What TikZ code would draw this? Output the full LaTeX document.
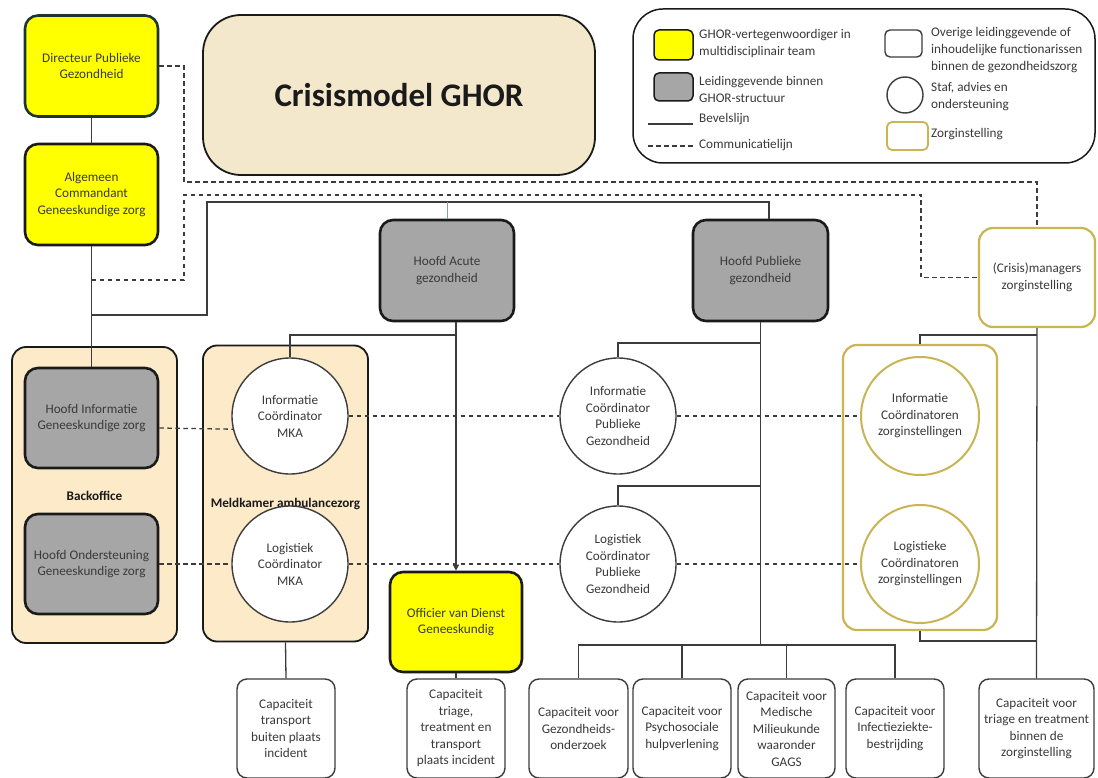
\documentclass[tikz,border=0pt]{standalone}
\usepackage{fontspec}
\setmainfont{Carlito}
\usetikzlibrary{arrows.meta}
\definecolor{ghoryellow}{HTML}{FFFF00}
\definecolor{boxgray}{HTML}{A6A6A6}
\definecolor{beige}{HTML}{FCEAC9}
\definecolor{titlebeige}{HTML}{F3E7CC}
\definecolor{gold}{HTML}{C9B553}
\definecolor{txt}{HTML}{3A3A3A}
\definecolor{ln}{HTML}{3C3C3C}
\definecolor{edge}{HTML}{1A1A1A}
\definecolor{tealedge}{HTML}{1E3434}
\definecolor{blueline}{HTML}{7F9FBF}
\begin{document}
\begin{tikzpicture}[x=1pt,y=-1pt,
  every node/.style={font=\fontsize{13.2}{16.5}\selectfont, text=txt, align=center, inner sep=1pt},
  ybox/.style={draw=edge, line width=2.6pt, fill=ghoryellow, rounded corners=13pt, minimum width=133pt, minimum height=101pt},
  gbox/.style={draw=edge, line width=2.6pt, fill=boxgray, rounded corners=13pt, minimum width=133pt, minimum height=100pt},
  container/.style={draw=edge, line width=1.8pt, fill=beige, rounded corners=14pt},
  gcontainer/.style={draw=gold, line width=2.2pt, fill=white, rounded corners=14pt},
  circ/.style={circle, draw=ln, line width=1.4pt, fill=white, minimum size=116pt},
  gcirc/.style={circle, draw=gold, line width=2pt, fill=white, minimum size=118pt},
  capbox/.style={draw=ln, line width=1.4pt, fill=white, rounded corners=10pt, minimum height=99pt},
  cmd/.style={draw=ln, line width=1.3pt},
  comm/.style={draw=ln, line width=1.3pt, dash pattern=on 4.5pt off 3.5pt},
  lab/.style={font=\fontsize{13.2}{16.5}\selectfont\bfseries, text=edge},
  legtext/.style={anchor=west, align=left, font=\fontsize{13.2}{17}\selectfont},
]
\fill[white] (0,0) rectangle (1098,778);
\useasboundingbox (0,0) rectangle (1098,778);

% title and legend
\node[draw=edge, line width=1.8pt, fill=titlebeige, rounded corners=38pt, minimum width=392pt, minimum height=160pt, font=\fontsize{33}{40}\selectfont\bfseries, text=edge] (title) at (399,95) {Crisismodel GHOR};
\node[draw=edge, line width=1.5pt, rounded corners=30pt, minimum width=462pt, minimum height=154pt] (legend) at (864,86) {};
\node[draw=edge, line width=1.5pt, fill=ghoryellow, rounded corners=5pt, minimum width=39pt, minimum height=30pt] (lgy) at (673.5,45) {};
\node[legtext] (lgyt) at (698,43) {GHOR-vertegenwoordiger in\\multidisciplinair team};
\node[draw=edge, line width=1.5pt, fill=boxgray, rounded corners=5pt, minimum width=39pt, minimum height=28pt] (lgg) at (673.5,87) {};
\node[legtext] (lggt) at (698,89) {Leidinggevende binnen\\GHOR-structuur};
\coordinate (lgs1) at (648,124);
\coordinate (lgs2) at (693,124);
\draw[cmd] (lgs1) -- (lgs2);
\node[legtext] (lgst) at (698,119) {Bevelslijn};
\coordinate (lgd1) at (648,146);
\coordinate (lgd2) at (693,146);
\draw[comm] (lgd1) -- (lgd2);
\node[legtext] (lgdt) at (698,145) {Communicatielijn};
\node[draw=ln, line width=1.4pt, fill=white, rounded corners=5pt, minimum width=37pt, minimum height=27pt] (lgw) at (903.5,43.5) {};
\node[legtext] (lgwt) at (930,50) {Overige leidinggevende of\\inhoudelijke functionarissen\\binnen de gezondheidszorg};
\node[circle, draw=ln, line width=1.4pt, minimum size=36pt] (lgc) at (905,95) {};
\node[legtext] (lgct) at (930,97) {Staf, advies en\\ondersteuning};
\node[draw=gold, line width=1.8pt, fill=white, rounded corners=5pt, minimum width=41pt, minimum height=28pt] (lgz) at (907.5,136) {};
\node[legtext] (lgzt) at (930,134) {Zorginstelling};

% top nodes
\node[ybox, draw=tealedge] (dph) at (91.5,66) {Directeur Publieke\\Gezondheid};
\node[ybox] (ac) at (91.5,194.5) {Algemeen\\Commandant\\Geneeskundige zorg};
\node[gbox, minimum width=134pt, minimum height=101pt] (ha) at (447,270.5) {Hoofd Acute\\gezondheid};
\node[gbox, minimum width=135pt, minimum height=101pt] (hp) at (760.5,270.5) {Hoofd Publieke\\gezondheid};
\node[draw=gold, line width=2.2pt, fill=white, rounded corners=14pt, minimum width=116pt, minimum height=99pt] (cm) at (1037,277.5) {(Crisis)managers\\zorginstelling};

% containers
\node[container, minimum width=165pt, minimum height=296pt] (bo) at (94.5,495) {};
\node[container, minimum width=165pt, minimum height=296pt] (mk) at (285.5,493.5) {};
\node[gcontainer, minimum width=154pt, minimum height=285pt] (zi) at (920,487.5) {};
\node[lab] (bolab) at (94.5,496) {Backoffice};
\node[lab] (mklab) at (285.5,504) {Meldkamer ambulancezorg};

% inner nodes
\node[gbox] (hi) at (91.5,418) {Hoofd Informatie\\Geneeskundige zorg};
\node[gbox] (ho) at (91.5,564) {Hoofd Ondersteuning\\Geneeskundige zorg};
\node[circ] (imka) at (290,416) {Informatie\\Co\"ordinator\\MKA};
\node[circ] (lmka) at (290,564) {Logistiek\\Co\"ordinator\\MKA};
\node[circ] (ipg) at (618,416) {Informatie\\Co\"ordinator\\Publieke\\Gezondheid};
\node[circ] (lpg) at (618,564) {Logistiek\\Co\"ordinator\\Publieke\\Gezondheid};
\node[gcirc] (ic) at (920,416) {Informatie\\Co\"ordinatoren\\zorginstellingen};
\node[gcirc] (lc) at (920,564) {Logistieke\\Co\"ordinatoren\\zorginstellingen};
\node[ybox, minimum width=132pt, minimum height=100pt] (ovd) at (456,622) {Officier van Dienst\\Geneeskundig};

% bottom capacity boxes
\node[capbox, minimum width=98pt] (c1) at (286,728.5) {Capaciteit\\transport\\buiten plaats\\incident};
\node[capbox, minimum width=98pt] (c2) at (456,728.5) {Capaciteit\\triage,\\treatment en\\transport\\plaats incident};
\node[capbox, minimum width=99pt] (c3) at (578.5,728.5) {Capaciteit voor\\Gezondheids-\\onderzoek};
\node[capbox, minimum width=98pt] (c4) at (682,728.5) {Capaciteit voor\\Psychosociale\\hulpverlening};
\node[capbox, minimum width=97pt] (c5) at (786.5,728.5) {Capaciteit voor\\Medische\\Milieukunde\\waaronder\\GAGS};
\node[capbox, minimum width=98pt] (c6) at (895,728.5) {Capaciteit voor\\Infectieziekte-\\bestrijding};
\node[capbox, minimum width=115pt] (c7) at (1036.5,728.5) {Capaciteit voor\\triage en treatment\\binnen de\\zorginstelling};

% coordinates for bends
\coordinate (d1) at (184,182);
\coordinate (d2) at (91.5,280);
\coordinate (d3) at (184,195);
\coordinate (d4) at (921,195);
\coordinate (s1) at (91.5,315);
\coordinate (s2) at (207,202);
\coordinate (m1) at (456,335);
\coordinate (p1) at (760.5,343);
\coordinate (p2) at (760.5,486);
\coordinate (bus) at (760.5,645);
\coordinate (z1) at (1037,335);
\coordinate (z2) at (1037,641);

% command lines
\draw[cmd] (dph) -- (ac);
\draw[cmd] (ac) -- (hi);
\draw[cmd] (s1) -| (s2) -| ([xshift=8.5pt]hp.north);
\draw[line width=1pt, blueline] (ha.north |- s2) -- (ha.north);
\draw[cmd, -{Triangle[length=6pt,width=6pt]}] (ovd.north |- ha.south) -- (ovd.north);
\draw[cmd] (imka.north) |- (m1);
\draw[cmd] (hp.south) -- (bus);
\draw[cmd] (ipg.north) |- (p1);
\draw[cmd] (lpg.north) |- (p2);
\draw[cmd] (c3.north) |- (bus) -| (c6.north);
\draw[cmd] (c4.north) -- (c4.north |- bus);
\draw[cmd] (c5.north) -- (c5.north |- bus);
\draw[cmd] (mk.south) -- (c1.north);
\draw[cmd] (ovd.south) -- (c2.north);
\draw[cmd] (cm.south) -- (c7.north);
\draw[cmd] (zi.north) |- (z1);
\draw[cmd] (zi.south) |- (z2);

% communication lines
\draw[comm] (dph.east) -| (d1) -| (cm.north);
\draw[comm] (d2) -| (d3) -- (d4) |- (cm.west);
\draw[comm] ([yshift=-10pt]hi.east) -- (imka.193);
\draw[comm] (imka.east) -- (ipg.west);
\draw[comm] (ipg.east) -- (ic.west);
\draw[comm] (ho.east) -- (lmka.west);
\draw[comm] (lmka.east) -- (lpg.west);
\draw[comm] (lpg.east) -- (lc.west);
\end{tikzpicture}
\end{document}
